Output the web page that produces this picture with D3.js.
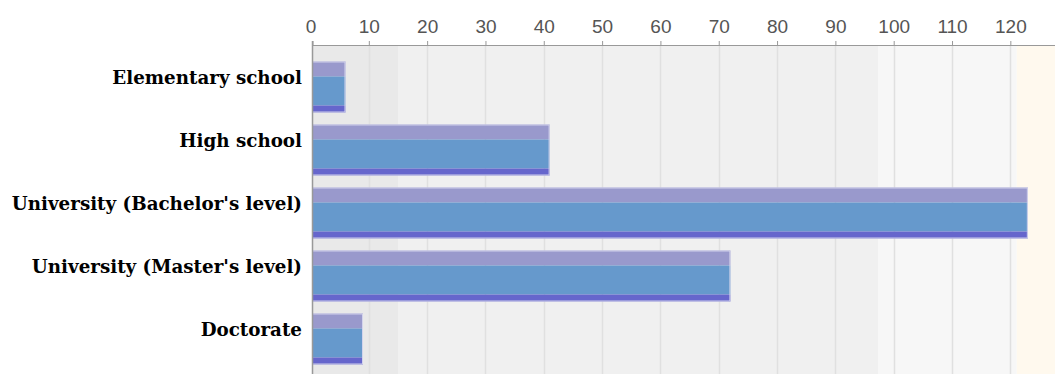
<!DOCTYPE html>
<html>
<head>
<meta charset="utf-8">
<script src="https://cdn.jsdelivr.net/npm/d3@7/dist/d3.min.js"></script>
<style>
  html, body { margin: 0; padding: 0; background: #ffffff; }
  svg { display: block; }
</style>
</head>
<body>
<div id="chart"></div>
<script>
// Education levels and respondent counts
const categories = [
  "Elementary school",
  "High school",
  "University (Bachelor's level)",
  "University (Master's level)",
  "Doctorate"
];
const values = [6, 41, 123, 72, 9];
const tickValues = [0, 10, 20, 30, 40, 50, 60, 70, 80, 90, 100, 110, 120];
// Shaded background ranges along the value axis
const bandStarts = [0, 15, 97.3, 121.1];
const bandEnds = [15, 97.3, 121.1, 130];
const bandColors = ["#e9e9e9", "#f0f0f0", "#f7f7f7", "#fff9ee"];

const W = 1055, H = 374;
const plotLeft = 312, plotTop = 45, plotRight = W, plotBottom = H;

const svg = d3.select("#chart").append("svg")
  .attr("width", W).attr("height", H);

const x = d3.scaleLinear().domain([0, 128]).range([310.5, 310.5 + 128 * 5.832]);
const y = d3.scaleBand().domain(categories)
  .range([55.5, 370.5]).paddingInner(0.19).paddingOuter(0.095);

svg.append("clipPath").attr("id", "plotclip")
  .append("rect").attr("x", plotLeft).attr("y", plotTop)
  .attr("width", plotRight - plotLeft).attr("height", plotBottom - plotTop);

const plot = svg.append("g").attr("clip-path", "url(#plotclip)");

// background bands
plot.selectAll("rect.band").data(bandStarts).join("rect")
  .attr("class", "band")
  .attr("x", (d) => x(d))
  .attr("y", plotTop)
  .attr("width", (d, i) => x(bandEnds[i]) - x(d))
  .attr("height", plotBottom - plotTop)
  .attr("fill", (d, i) => bandColors[i]);

// vertical grid lines
plot.selectAll("line.grid").data(tickValues.filter(d => d > 0)).join("line")
  .attr("class", "grid")
  .attr("x1", d => Math.round(x(d)) + 0.5).attr("x2", d => Math.round(x(d)) + 0.5)
  .attr("y1", plotTop).attr("y2", plotBottom)
  .attr("stroke", "#e0e0e0").attr("stroke-width", 1.5);

// bars: three horizontal stripes each
const bars = plot.selectAll("g.bar").data(categories).join("g").attr("class", "bar");
const bh = () => y.bandwidth();
const stripes = [
  { from: 0, to: 15 / 51, color: "#9999cc" },
  { from: 15 / 51, to: 44 / 51, color: "#6699cc" },
  { from: 44 / 51, to: 1, color: "#6666cc" }
];
bars.each(function (c, i) {
  const g = d3.select(this);
  const x0 = x(0), x1 = x(values[i]);
  const y0 = y(c);
  stripes.forEach(s => {
    g.append("rect")
      .attr("x", x0).attr("y", y0 + s.from * bh())
      .attr("width", x1 - x0).attr("height", (s.to - s.from) * bh())
      .attr("fill", s.color);
  });
  g.append("rect")
    .attr("x", x0 + 0.5).attr("y", y0 + 0.5)
    .attr("width", x1 - x0 - 1).attr("height", bh() - 1)
    .attr("fill", "none").attr("stroke", "#d4d4ec").attr("stroke-width", 1);
});

// top value axis
const xAxis = d3.axisTop(x).tickValues(tickValues).tickSize(4).tickPadding(8).tickFormat(d3.format("d"));
const ax = svg.append("g").attr("transform", `translate(0,${plotTop})`).call(xAxis);
ax.select(".domain").remove();
ax.append("line").attr("x1", plotLeft).attr("x2", plotRight)
  .attr("y1", 0.5).attr("y2", 0.5).attr("stroke", "#999");
ax.selectAll(".tick line").attr("stroke", "#999")
  .attr("transform", d => d === 0 ? `translate(${plotLeft + 0.5 - x(0)},0)` : null);
ax.selectAll(".tick text")
  .attr("fill", "#555")
  .style("font-family", "'Liberation Sans', Arial, sans-serif")
  .style("font-size", "19px");

// left axis line
svg.append("line").attr("x1", plotLeft + 0.5).attr("x2", plotLeft + 0.5)
  .attr("y1", plotTop - 4).attr("y2", plotBottom)
  .attr("stroke", "#999").attr("stroke-width", 1.5);

// category labels
svg.selectAll("text.cat").data(categories).join("text")
  .attr("class", "cat")
  .attr("x", 302)
  .attr("y", d => y(d) + 23)
  .attr("text-anchor", "end")
  .style("font-family", "'DejaVu Serif', serif")
  .style("font-weight", "bold")
  .style("font-size", "18.3px")
  .attr("fill", "#000")
  .text(d => d);
</script>
</body>
</html>
